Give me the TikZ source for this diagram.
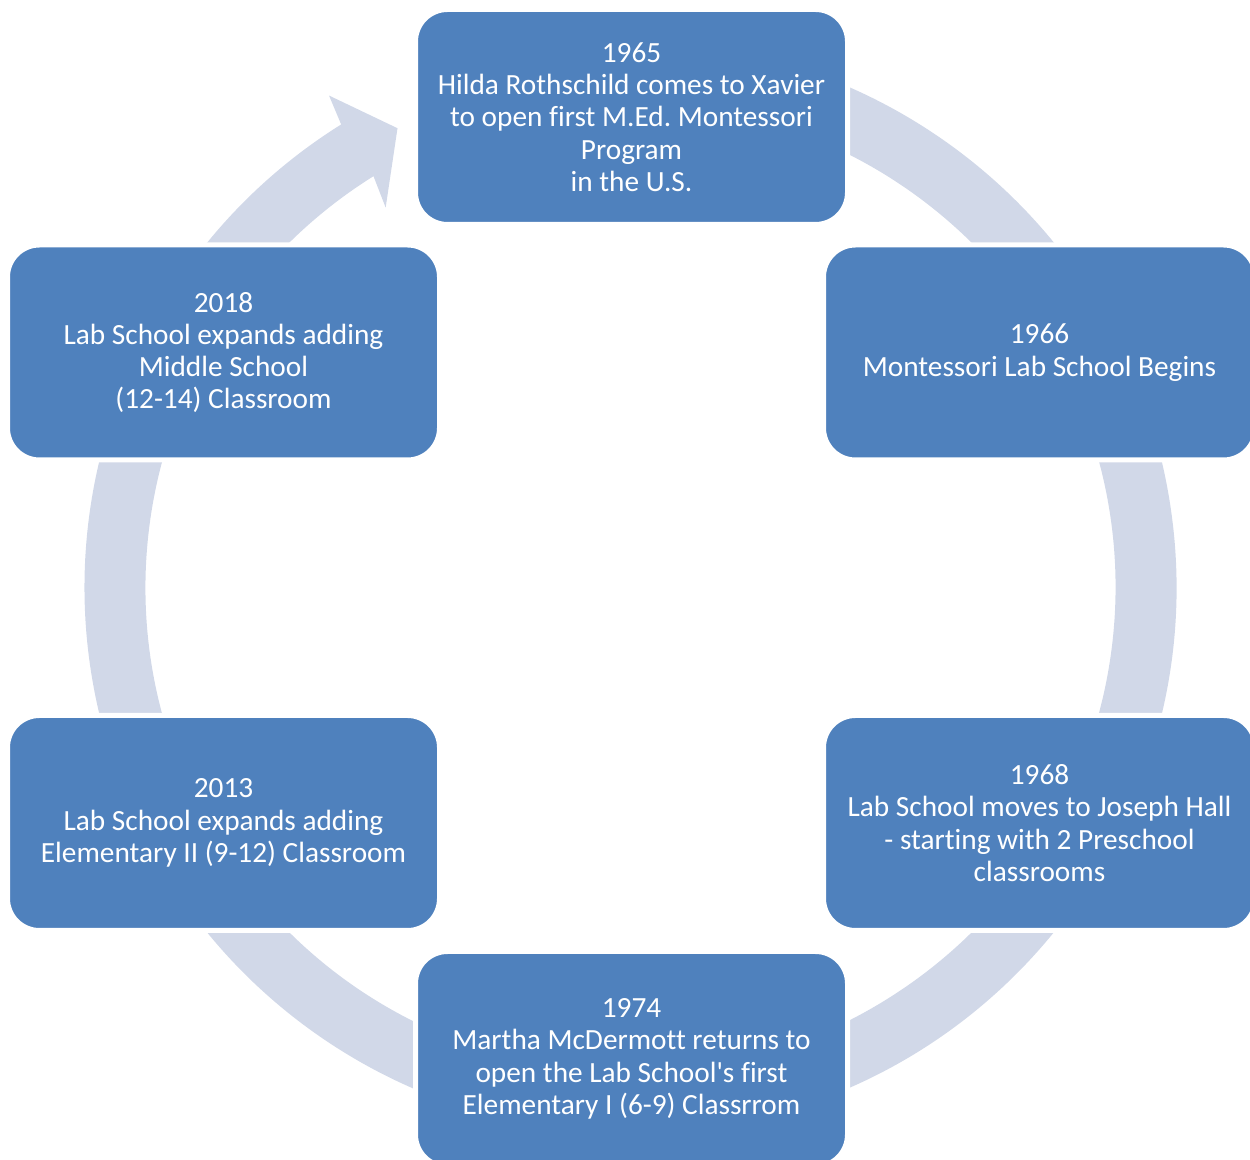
\documentclass[tikz,border=0pt]{standalone}
\usepackage{fontspec}
\setmainfont{Carlito}[Ligatures={NoCommon}]
\frenchspacing
\definecolor{boxblue}{RGB}{79,129,189}
\definecolor{ringblue}{RGB}{209,216,232}
\begin{document}
\begin{tikzpicture}[x=1pt,y=1pt,
  stage/.style={rectangle, rounded corners=32pt, fill=boxblue, draw=white,
    line width=5pt, minimum width=432pt, minimum height=215pt, text=white,
    align=center, font=\fontsize{29.3}{32.3}\selectfont, inner sep=0pt}]
\useasboundingbox (0,0) rectangle (1250,1159);
\clip (0,0) rectangle (1250,1159);
\begin{scope}[shift={(630.5,571.5)}]
\fill[ringblue] (100:546) arc[start angle=100, end angle=-238, radius=546]
  -- (121.5:577) -- (116.9:515) -- (122.8:452) -- (122:485)
  arc[start angle=-238, end angle=100, radius=485] -- cycle;
\end{scope}
\node[stage] (n1965) at (631.5,1042) {1965\\Hilda Rothschild comes to Xavier\\to open first M.Ed. Montessori\\Program\\in the U.S.};
\node[stage] (n1966) at (1039.5,806.5) {1966\\Montessori Lab School Begins};
\node[stage] (n1968) at (1039.5,336) {1968\\Lab School moves to Joseph Hall\\- starting with 2 Preschool\\classrooms};
\node[stage] (n1974) at (631.5,100) {1974\\Martha McDermott returns to\\open the Lab School\textquotesingle s first\\Elementary I (6-9) Classrrom};
\node[stage] (n2013) at (223.5,336) {2013\\Lab School expands adding\\Elementary II (9-12) Classroom};
\node[stage] (n2018) at (223.5,806.5) {2018\\Lab School expands adding\\Middle School\\(12-14) Classroom};
\end{tikzpicture}
\end{document}
